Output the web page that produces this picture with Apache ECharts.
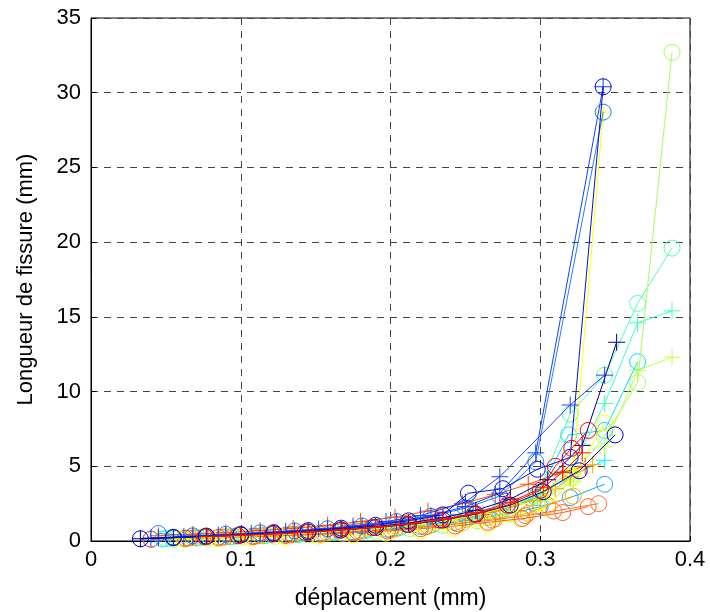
<!DOCTYPE html>
<html>
<head>
<meta charset="utf-8">
<script src="https://cdn.jsdelivr.net/npm/echarts@6/dist/echarts.min.js"></script>
<style>
html,body{margin:0;padding:0;background:#fff;}
#chart{width:710px;height:612px;}
</style>
</head>
<body>
<div id="chart"></div>
<script>
// ---- data ----
const xTicks = [0, 0.1, 0.2, 0.3, 0.4];
const yTicks = [0, 5, 10, 15, 20, 25, 30, 35];
const xLabel = "déplacement (mm)";
const yLabel = "Longueur de fissure (mm)";

const s01 = [[0.033,0.15],[0.055,0.22],[0.077,0.3],[0.100,0.4],[0.122,0.5],[0.145,0.6],[0.167,0.74],[0.190,0.9],[0.212,1.1],[0.235,1.4],[0.257,1.8],[0.280,2.4],[0.302,3.3],[0.326,4.7],[0.350,7.1]];
const s02 = [[0.033,0.15],[0.055,0.23],[0.077,0.31],[0.100,0.42],[0.122,0.53],[0.145,0.64],[0.167,0.8],[0.190,0.97],[0.212,1.2],[0.235,1.55],[0.257,2.05],[0.280,2.8],[0.305,4.1],[0.328,6.4],[0.351,13.3]];
const s03 = [[0.045,0.22],[0.068,0.3],[0.090,0.4],[0.113,0.52],[0.136,0.65],[0.158,0.8],[0.181,1.0],[0.204,1.3],[0.227,1.7],[0.250,2.3],[0.273,3.2],[0.297,5.9],[0.342,30.4]];
const s04 = [[0.045,0.5],[0.068,0.35],[0.090,0.45],[0.113,0.55],[0.136,0.68],[0.158,0.82],[0.181,1.0],[0.204,1.3],[0.227,1.65],[0.250,2.2],[0.273,3.0],[0.297,5.3],[0.342,28.7]];
const s05 = [[0.055,0.25],[0.077,0.33],[0.100,0.44],[0.122,0.56],[0.145,0.7],[0.167,0.86],[0.190,1.05],[0.212,1.35],[0.235,1.75],[0.252,3.2],[0.275,3.5],[0.298,4.8],[0.320,5.6],[0.342,30.4]];
const s06 = [[0.060,0.18],[0.083,0.26],[0.105,0.34],[0.128,0.44],[0.150,0.56],[0.172,0.7],[0.195,0.88],[0.218,1.1],[0.240,1.4],[0.262,1.85],[0.285,2.5],[0.305,3.5],[0.322,4.8],[0.342,28.7]];
const s07 = [[0.040,0.2],[0.062,0.3],[0.085,0.4],[0.107,0.52],[0.130,0.65],[0.152,0.8],[0.175,1.0],[0.197,1.3],[0.220,1.7],[0.250,2.6],[0.273,4.3],[0.320,9.1],[0.343,11.1]];
const s08 = [[0.050,0.15],[0.072,0.22],[0.095,0.3],[0.117,0.38],[0.140,0.48],[0.162,0.6],[0.185,0.75],[0.207,0.95],[0.230,1.2],[0.252,1.55],[0.275,2.1],[0.298,3.1],[0.320,8.5],[0.343,11.1],[0.365,15.9],[0.388,19.6]];
const s09 = [[0.052,0.18],[0.075,0.25],[0.097,0.33],[0.120,0.42],[0.142,0.52],[0.165,0.65],[0.187,0.8],[0.210,1.0],[0.232,1.3],[0.255,1.7],[0.277,2.3],[0.300,3.2],[0.320,4.6],[0.343,9.2],[0.365,14.6],[0.388,15.4]];
const s10 = [[0.055,0.12],[0.078,0.18],[0.100,0.25],[0.123,0.32],[0.145,0.42],[0.168,0.52],[0.190,0.65],[0.213,0.82],[0.235,1.05],[0.258,1.35],[0.280,1.8],[0.300,2.6],[0.320,4.2],[0.343,7.0],[0.365,10.6],[0.388,32.7]];
const s11 = [[0.058,0.14],[0.080,0.2],[0.103,0.27],[0.125,0.35],[0.148,0.45],[0.170,0.56],[0.193,0.7],[0.215,0.88],[0.238,1.1],[0.260,1.45],[0.283,1.95],[0.303,2.8],[0.322,4.0],[0.343,6.3],[0.365,11.4],[0.388,12.3]];
const s12 = [[0.048,0.14],[0.070,0.2],[0.093,0.27],[0.115,0.35],[0.138,0.44],[0.160,0.55],[0.183,0.7],[0.205,0.88],[0.228,1.1],[0.250,1.45],[0.273,2.0],[0.297,2.9],[0.319,7.1],[0.343,7.4],[0.365,12.0]];
const s13 = [[0.050,0.16],[0.073,0.23],[0.095,0.3],[0.118,0.38],[0.140,0.48],[0.163,0.6],[0.185,0.75],[0.208,0.94],[0.230,1.2],[0.253,1.55],[0.275,2.1],[0.298,3.0],[0.320,4.3],[0.343,5.4]];
const s14 = [[0.040,0.12],[0.063,0.18],[0.085,0.25],[0.108,0.32],[0.130,0.4],[0.153,0.5],[0.175,0.62],[0.198,0.78],[0.220,0.98],[0.243,1.25],[0.265,1.6],[0.288,2.0],[0.300,2.3],[0.320,2.9],[0.343,3.8]];
const s15 = [[0.076,0.28],[0.098,0.36],[0.121,0.46],[0.143,0.58],[0.166,0.72],[0.188,0.9],[0.211,1.12],[0.233,1.4],[0.256,1.8],[0.278,2.4],[0.300,3.4],[0.310,5.0],[0.321,6.2],[0.332,7.4]];
const s16 = [[0.078,0.3],[0.100,0.38],[0.123,0.48],[0.145,0.6],[0.168,0.75],[0.190,0.92],[0.213,1.15],[0.235,1.45],[0.258,1.9],[0.280,2.6],[0.302,3.6],[0.315,4.6],[0.328,5.9]];
const s17 = [[0.040,0.12],[0.063,0.18],[0.085,0.24],[0.108,0.3],[0.130,0.37],[0.153,0.45],[0.175,0.55],[0.198,0.67],[0.220,0.82],[0.243,1.0],[0.265,1.25],[0.288,1.5],[0.315,1.9],[0.332,2.3]];
const s18 = [[0.065,0.2],[0.088,0.26],[0.110,0.33],[0.133,0.42],[0.155,0.52],[0.178,0.63],[0.200,0.77],[0.223,0.94],[0.245,1.15],[0.268,1.4],[0.290,1.7],[0.309,2.0],[0.339,2.5]];
const s19 = [[0.070,0.25],[0.093,0.33],[0.115,0.42],[0.138,0.53],[0.160,0.66],[0.183,0.82],[0.205,1.02],[0.228,1.27],[0.250,1.6],[0.273,2.05],[0.295,2.7],[0.310,3.5],[0.320,4.3],[0.335,5.1]];
const s20 = [[0.045,0.35],[0.068,0.45],[0.090,0.55],[0.113,0.7],[0.135,0.85],[0.158,1.05],[0.180,1.3],[0.203,1.6],[0.225,2.0],[0.248,2.5],[0.270,3.1],[0.292,3.8],[0.315,4.6],[0.330,5.0]];
const s21 = [[0.062,0.1],[0.085,0.15],[0.107,0.2],[0.130,0.26],[0.152,0.33],[0.175,0.42],[0.197,0.53],[0.220,0.67],[0.242,0.85],[0.265,1.1],[0.287,1.5],[0.305,2.3],[0.322,4.2],[0.343,7.9]];
const s22 = [[0.068,0.22],[0.090,0.28],[0.113,0.35],[0.135,0.43],[0.158,0.53],[0.180,0.65],[0.203,0.8],[0.225,0.98],[0.248,1.2],[0.270,1.5],[0.292,1.85],[0.305,2.4],[0.322,3.0]];

// ---- styles (separate from data) ----
const PLUS = 'path://M10,0L10,20M0,10L20,10';
const seriesDefs = [
  {data: s14, mark: 'o', color: '#20a0ff'},
  {data: s12, mark: 'o', color: '#00e0ff'},
  {data: s13, mark: '+', color: '#00ffff'},
  {data: s08, mark: 'o', color: '#50ffb0'},
  {data: s09, mark: '+', color: '#40ffc0'},
  {data: s10, mark: 'o', color: '#a0ff60'},
  {data: s11, mark: '+', color: '#c0ff40'},
  {data: s21, mark: 'o', color: '#ffff00'},
  {data: s22, mark: 'o', color: '#ffb000'},
  {data: s19, mark: '+', color: '#ffa000'},
  {data: s18, mark: 'o', color: '#ff7030'},
  {data: s17, mark: 'o', color: '#ff6020'},
  {data: s20, mark: '+', color: '#ff5000'},
  {data: s06, mark: '+', color: '#ffff00'},
  {data: s04, mark: 'o', color: '#2080ff'},
  {data: s03, mark: '+', color: '#1040ff'},
  {data: s07, mark: '+', color: '#2040ff'},
  {data: s01, mark: 'o', color: '#0000c0'},
  {data: s02, mark: '+', color: '#000090'},
  {data: s05, mark: 'o', color: '#0010e0'},
  {data: s15, mark: 'o', color: '#ff0000'},
  {data: s16, mark: '+', color: '#ff1000'}
];

const chart = echarts.init(document.getElementById('chart'), null, {renderer: 'canvas'});
const font = 'Liberation Sans, Arial, sans-serif';

const series = seriesDefs.map((d, i) => ({
  type: 'line',
  data: d.data,
  symbol: d.mark === 'o' ? 'circle' : PLUS,
  symbolSize: d.mark === 'o' ? 16 : 17,
  showAllSymbol: true,
  itemStyle: {color: 'transparent', borderColor: d.color, borderWidth: 1},
  lineStyle: {color: d.color, width: 1},
  emphasis: {disabled: true},
  animation: false,
  clip: true,
  z: 2 + i * 0.01
}));

chart.setOption({
  animation: false,
  backgroundColor: '#fff',
  grid: {left: 91, right: 20, top: 18, bottom: 71, containLabel: false, outerBoundsMode: 'none',
         show: true, borderColor: '#000', borderWidth: 1, backgroundColor: 'transparent'},
  xAxis: {
    type: 'value', min: xTicks[0], max: xTicks[xTicks.length - 1], interval: 0.1,
    name: xLabel, nameLocation: 'middle', nameGap: 46,
    nameTextStyle: {fontFamily: font, fontSize: 23, color: '#000'},
    axisLine: {show: true, onZero: false, lineStyle: {color: '#000', width: 1}},
    axisTick: {show: true, inside: true, length: 5, lineStyle: {color: '#000'}},
    axisLabel: {fontFamily: font, fontSize: 22, color: '#000', margin: 8,
      formatter: v => xTicks.includes(+v.toFixed(2)) ? String(+v.toFixed(2)) : ''},
    splitLine: {show: true, lineStyle: {color: '#444', width: 1, type: [7, 6]}}
  },
  yAxis: {
    type: 'value', min: yTicks[0], max: yTicks[yTicks.length - 1], interval: 5,
    name: yLabel, nameLocation: 'middle', nameGap: 54,
    nameTextStyle: {fontFamily: font, fontSize: 22, color: '#000'},
    axisLine: {show: true, onZero: false, lineStyle: {color: '#000', width: 1}},
    axisTick: {show: true, inside: true, length: 5, lineStyle: {color: '#000'}},
    axisLabel: {fontFamily: font, fontSize: 22, color: '#000', margin: 10},
    splitLine: {show: true, lineStyle: {color: '#444', width: 1, type: [7, 6]}}
  },
  series: series
});
</script>
</body>
</html>
